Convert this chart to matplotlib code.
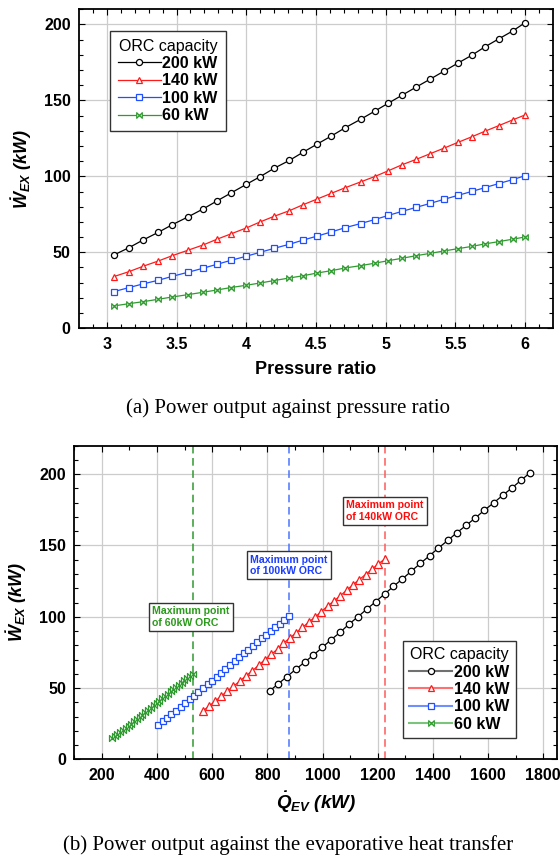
import matplotlib
matplotlib.use('Agg')
import matplotlib.pyplot as plt
from matplotlib.path import Path
from matplotlib.lines import Line2D

# pressure ratio (top panel x) - same for all four capacities
pr = [3.05, 3.16, 3.26, 3.37, 3.47, 3.58, 3.69, 3.79, 3.89, 4.00,
      4.10, 4.20, 4.31, 4.41, 4.51, 4.61, 4.71, 4.82, 4.92, 5.02,
      5.12, 5.22, 5.32, 5.42, 5.52, 5.62, 5.71, 5.81, 5.91, 6.00]

# expander power (kW)
w_200 = [48.2, 53.1, 58.1, 63.2, 68.2, 73.2, 78.5, 83.8, 89.0, 94.7,
         99.8, 105.3, 110.5, 116.0, 121.3, 126.5, 132.0, 137.5, 142.8, 148.2,
         153.5, 158.8, 164.0, 169.3, 174.6, 179.8, 185.1, 190.4, 195.6, 201.1]
w_140 = [34.0, 37.3, 40.8, 44.3, 47.8, 51.3, 54.8, 58.6, 62.1, 66.0,
         70.0, 73.7, 77.4, 81.4, 85.1, 88.8, 92.5, 96.3, 99.8, 103.7,
         107.7, 111.2, 114.9, 118.6, 122.4, 126.1, 129.6, 133.3, 137.1, 140.4]
w_100 = [24.1, 26.8, 29.2, 31.6, 34.2, 36.8, 39.5, 42.1, 44.7, 47.4,
         50.0, 52.6, 55.3, 58.1, 60.7, 63.4, 66.2, 68.9, 71.5, 74.3,
         77.0, 79.6, 82.2, 84.9, 87.5, 90.1, 92.5, 95.2, 97.8, 100.4]
w_60 = [14.7, 16.2, 17.5, 19.1, 20.6, 22.1, 23.7, 25.2, 26.8, 28.3,
        29.8, 31.4, 33.1, 34.6, 36.4, 37.9, 39.7, 41.2, 42.8, 44.5,
        46.1, 47.8, 49.3, 50.9, 52.4, 53.9, 55.5, 57.0, 58.6, 60.1]

# evaporator heat (kW), bottom panel x
q_200 = [809, 840, 871, 903, 935, 967, 999, 1030, 1063, 1095,
         1127, 1160, 1192, 1225, 1257, 1289, 1322, 1355, 1388, 1420,
         1454, 1486, 1520, 1554, 1586, 1620, 1653, 1687, 1719, 1753]
q_140 = [566, 588, 610, 632, 654, 677, 699, 722, 745, 768,
         791, 814, 837, 858, 881, 904, 927, 950, 973, 996,
         1019, 1042, 1065, 1087, 1110, 1133, 1156, 1179, 1202, 1225]
q_100 = [404, 420, 436, 452, 469, 485, 501, 518, 534, 550,
         567, 583, 599, 616, 632, 648, 665, 681, 697, 714,
         730, 747, 763, 779, 796, 812, 829, 845, 861, 878]
q_60 = [236, 246, 256, 266, 277, 287, 297, 307, 317, 327,
        337, 347, 358, 368, 378, 388, 398, 408, 418, 428,
        439, 449, 459, 469, 479, 489, 499, 510, 520, 530]

labels = ['200 kW', '140 kW', '100 kW', '60 kW']
colors = ['black', '#ff1a1a', '#1f4fff', '#2f9a2f']
light = ['#707070', '#ff7070', '#6f8fff', '#7cc47c']
vline_colors = ['#2f9a2f', '#4a74ff', '#ff5a5a']
text_colors = ['#2a9a1a', '#1a3cff', '#ff0a0a']

bowtie = Path([(-1, 1), (1, -1), (1, 1), (-1, -1), (-1, 1)],
              [Path.MOVETO, Path.LINETO, Path.LINETO, Path.LINETO, Path.CLOSEPOLY])
markers = ['o', '^', 's', bowtie]
msizes = [4.4, 4.8, 4.6, 4.0]

plt.rcParams['font.family'] = ['Liberation Sans', 'DejaVu Sans']
plt.rcParams['mathtext.fontset'] = 'custom'
plt.rcParams['mathtext.rm'] = 'Liberation Sans:bold:italic'
plt.rcParams['mathtext.it'] = 'Liberation Sans:bold:italic'
plt.rcParams['mathtext.bf'] = 'Liberation Sans:bold:italic'

fig = plt.figure(figsize=(5.6, 8.6), dpi=100)
ax1 = fig.add_axes([0.141, 0.6183, 0.8464, 0.371])
ax2 = fig.add_axes([0.1327, 0.1169, 0.862, 0.365])


def style_axes(ax):
    ax.grid(True, which='major', color='#cccccc', linewidth=0.9, zorder=0)
    ax.set_axisbelow(True)
    for s in ax.spines.values():
        s.set_linewidth(1.3)
        s.set_color('black')
    ax.tick_params(which='both', direction='in', top=True, right=True, width=0.8)
    ax.tick_params(which='major', length=4, labelsize=11.5, pad=6)
    ax.tick_params(which='minor', length=3)
    for t in ax.get_xticklabels() + ax.get_yticklabels():
        t.set_fontweight('bold')


def capacity_legend(ax, handles, anchor, pad):
    leg = ax.legend(handles, labels, title='ORC capacity', loc='upper left',
                    bbox_to_anchor=anchor, borderaxespad=0,
                    prop={'weight': 'bold', 'size': 11.5}, title_fontsize=11.5,
                    numpoints=1, handlelength=2.7, handletextpad=0.1,
                    labelspacing=0.15, borderpad=pad, fancybox=False,
                    framealpha=1, edgecolor='#333333')
    leg.get_frame().set_linewidth(1.0)
    return leg


# ---- (a) power vs pressure ratio
series = [w_200, w_140, w_100, w_60]
lines1 = []
for w, lab, c, m, ms in zip(series, labels, colors, markers, msizes):
    ln, = ax1.plot(pr, w, color=c, linewidth=0.9, marker=m, markersize=ms,
                   markerfacecolor='white', markeredgecolor=c, markeredgewidth=0.9,
                   label=lab, zorder=3)
    lines1.append(ln)

ax1.set_xlim(2.8, 6.2)
ax1.set_ylim(0, 210)
ax1.set_xticks([3, 3.5, 4, 4.5, 5, 5.5, 6])
ax1.set_xticklabels(['3', '3.5', '4', '4.5', '5', '5.5', '6'])
ax1.set_xticks([x / 10 for x in range(29, 62)], minor=True)
ax1.set_yticks([0, 50, 100, 150, 200])
ax1.set_yticks(range(0, 211, 10), minor=True)
style_axes(ax1)
ax1.set_xlabel('Pressure ratio', fontsize=13, fontweight='bold', labelpad=7)
ax1.set_ylabel(r'$\dot{W}_{EX}$ (kW)', fontsize=13, fontweight='bold',
               fontstyle='italic', labelpad=7)
capacity_legend(ax1, lines1, (0.065, 0.933), 0.5)

# ---- (b) power vs evaporator heat
qs = [q_200, q_140, q_100, q_60]
for q, w, lab, c, m, ms in zip(qs, series, labels, colors, markers, msizes):
    ax2.plot(q, w, color=c, linewidth=0.9, marker=m, markersize=ms + 0.3,
             markerfacecolor='white', markeredgecolor=c, markeredgewidth=0.9,
             label=lab, zorder=3)

# maximum points of the smaller ORC units
for q, vc in zip([q_60, q_100, q_140], vline_colors):
    ax2.axvline(max(q), color=vc, linestyle=(0, (5, 3)), linewidth=1.1, zorder=2)

notes = [('Maximum point\nof 60kW ORC', 523, 100),
         ('Maximum point\nof 100kW ORC', 878, 136),
         ('Maximum point\nof 140kW ORC', 1227, 174)]
for (txt, xq, yw), tc in zip(notes, text_colors):
    ax2.text(xq, yw, txt, color=tc, fontsize=7.6, fontweight='bold',
             ha='center', va='center', multialignment='left', zorder=5,
             bbox=dict(boxstyle='square,pad=0.3', facecolor='white',
                       edgecolor='#333333', linewidth=1.0))

ax2.set_xlim(100, 1850)
ax2.set_ylim(0, 220)
ax2.set_xticks(range(200, 1801, 200))
ax2.set_xticks(range(100, 1850, 100), minor=True)
ax2.set_yticks([0, 50, 100, 150, 200])
ax2.set_yticks(range(0, 221, 10), minor=True)
style_axes(ax2)
ax2.set_xlabel(r'$\dot{Q}_{EV}$ (kW)', fontsize=13.5, fontweight='bold',
               fontstyle='italic', labelpad=5)
ax2.set_ylabel(r'$\dot{W}_{EX}$ (kW)', fontsize=13, fontweight='bold',
               fontstyle='italic', labelpad=7)

handles = [Line2D([], [], color=lc, linewidth=1.5, marker=m, markersize=ms,
                  markerfacecolor='white', markeredgecolor=c, markeredgewidth=0.9)
           for lc, c, m, ms in zip(light, colors, markers, msizes)]
capacity_legend(ax2, handles, (0.68, 0.378), 0.4)

fig.text(0.514, 1 - 408 / 860, '(a) Power output against pressure ratio',
         family='Liberation Serif', fontsize=15, ha='center', va='center')
fig.text(0.514, 1 - 845 / 860, '(b) Power output against the evaporative heat transfer',
         family='Liberation Serif', fontsize=15, ha='center', va='center')

fig.savefig('out.png', dpi=100)
